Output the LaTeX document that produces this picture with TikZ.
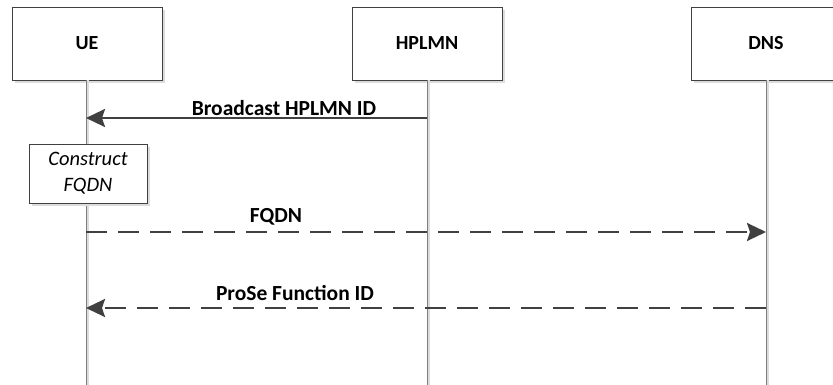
\documentclass[tikz,border=0pt]{standalone}
\usepackage{fontspec}
\setmainfont{Carlito}
\usetikzlibrary{arrows.meta,shadows}
\definecolor{ink}{HTML}{404040}
\definecolor{lifegray}{HTML}{7F7F7F}
\definecolor{shade}{HTML}{DCDCDC}
\tikzset{
  entity/.style={draw=ink, line width=0.8pt, fill=white, minimum width=150pt, minimum height=73pt,
    font=\fontsize{20}{24}\selectfont\bfseries, inner sep=0pt,
    drop shadow={shadow xshift=3pt, shadow yshift=-3pt, fill=shade, opacity=1}},
  action/.style={draw=ink, line width=0.8pt, fill=white, minimum width=118pt, minimum height=59pt,
    font=\fontsize{20.5}{26}\selectfont\itshape, align=center, inner sep=0pt,
    drop shadow={shadow xshift=3pt, shadow yshift=-3pt, fill=shade, opacity=1}},
  lifeline/.style={draw=lifegray, line width=0.9pt},
  lifeshade/.style={draw=shade, line width=2pt},
  msg/.style={draw=ink, line width=2.4pt, -{Stealth[length=19pt,width=18pt,inset=3pt]}},
  dmsg/.style={msg, dash pattern=on 21pt off 11pt},
  msglabel/.style={font=\fontsize{21.5}{24}\selectfont\bfseries, inner sep=0pt}
}
\begin{document}
\begin{tikzpicture}[x=1pt,y=-1pt]
  \useasboundingbox (0,0) rectangle (833,385);
  \clip (0,0) rectangle (833,385);

  % participants
  \node[entity] (ue)    at (87,43.5)  {UE};
  \node[entity] (hplmn) at (427,43.5) {HPLMN};
  \node[entity] (dns)   at (766,43.5) {DNS};

  % lifeline ends
  \coordinate (ueEnd)    at (86,385);
  \coordinate (hplmnEnd) at (427,385);
  \coordinate (dnsEnd)   at (766,385);

  % lifelines with a soft shade on their right
  \draw[lifeshade] ([xshift=1.8pt]ue.south -| ueEnd) -- ([xshift=1.8pt]ueEnd);
  \draw[lifeshade] ([xshift=1.8pt]hplmn.south -| hplmnEnd) -- ([xshift=1.8pt]hplmnEnd);
  \draw[lifeshade] ([xshift=1.8pt]dns.south -| dnsEnd) -- ([xshift=1.8pt]dnsEnd);
  \draw[lifeline] (ue.south -| ueEnd) -- (ueEnd);
  \draw[lifeline] (hplmn.south -| hplmnEnd) -- (hplmnEnd);
  \draw[lifeline] (dns.south -| dnsEnd) -- (dnsEnd);

  % local action at the UE
  \node[action] (construct) at (88,173.5) {Construct\\FQDN};

  % messages
  \coordinate (m1h) at (427,118);  \coordinate (m1u) at (86,118);
  \coordinate (m2u) at (86,232);   \coordinate (m2d) at (766,232);
  \coordinate (m3d) at (766,308);  \coordinate (m3u) at (86,308);

  \draw[msg]  (m1h) -- (m1u);
  \draw[dmsg] (m2u) -- (m2d);
  \draw[dmsg] (m3d) -- (m3u);

  \node[msglabel] (l1) at (284,108) {Broadcast HPLMN ID};
  \node[msglabel] (l2) at (276,217) {FQDN};
  \node[msglabel] (l3) at (295,293) {ProSe Function ID};
\end{tikzpicture}
\end{document}
